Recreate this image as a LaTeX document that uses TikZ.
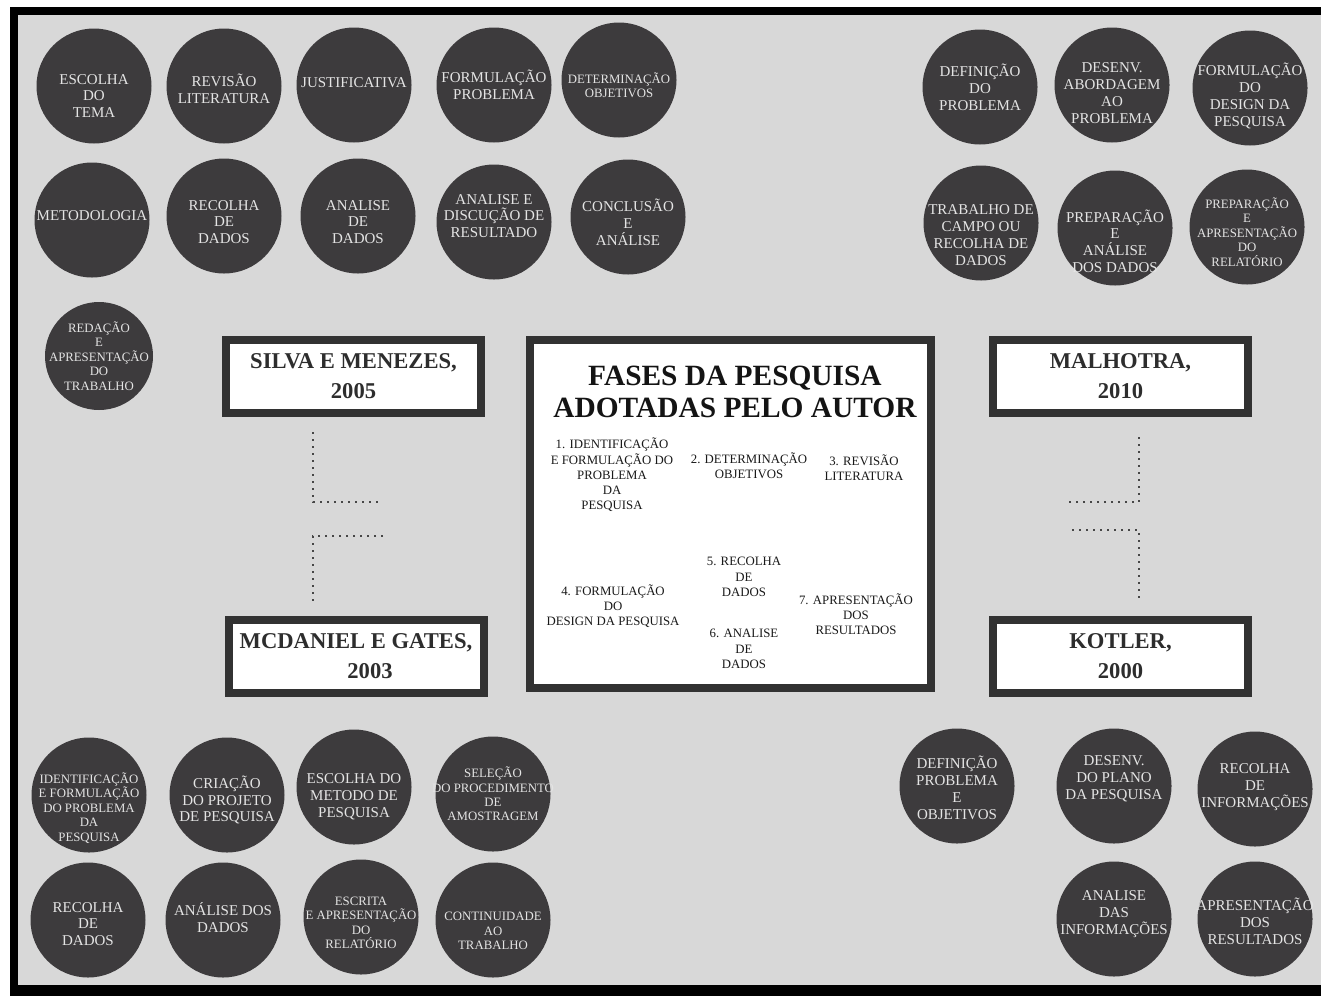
\documentclass[tikz,border=0pt]{standalone}
\usepackage{fontspec}
\setmainfont{Liberation Serif}
\usetikzlibrary{positioning, shapes.geometric}

\definecolor{fundo}{RGB}{216,216,216}
\definecolor{bolha}{RGB}{61,59,61}
\definecolor{bolhatexto}{RGB}{228,228,228}
\definecolor{borda}{RGB}{50,50,50}
\definecolor{autortexto}{RGB}{45,45,45}
\definecolor{pontos}{RGB}{70,70,70}

\tikzset{
  bubble/.style={circle, fill=bolha, minimum size=57.5pt, inner sep=0pt},
  bubbletext/.style={text=bolhatexto, align=center, inner sep=0pt, font=\fontsize{7.5}{8.4}\selectfont},
  bubblesmall/.style={bubbletext, font=\fontsize{6.4}{7.2}\selectfont},
  authorbox/.style={draw=borda, line width=4pt, fill=white, minimum width=127.5pt, minimum height=36.5pt, align=center, text=autortexto, font=\bfseries\fontsize{11.3}{15}\selectfont},
  stepnode/.style={align=center, inner sep=0pt, text=black!90, font=\fontsize{6.4}{7.6}\selectfont},
  dotline/.style={draw=pontos, line width=0.8pt, dash pattern=on 0.8pt off 2.7pt}
}

\begin{document}
\begin{tikzpicture}[x=0.5pt, y=-0.5pt]
  \useasboundingbox (0,0) rectangle (1321,996);
  \fill[white] (0,0) rectangle (1321,996);
  \fill[black] (10,7) rectangle (1321,996);
  \fill[fundo] (18,15) rectangle (1321,985);

  % Silva e Menezes
  \node[bubble, label={[bubbletext, yshift=-5pt]center:ESCOLHA\\DO\\TEMA}] (tema) at (94,86) {};
  \node[bubble, label={[bubbletext, yshift=-1.5pt]center:REVISÃO\\LITERATURA}] (revisao) at (224,86) {};
  \node[bubble, label={[bubbletext, yshift=1pt]center:JUSTIFICATIVA}] (justif) at (354,85) {};
  \node[bubble, label={[bubbletext]center:FORMULAÇÃO\\PROBLEMA}] (formprob) at (494,85) {};
  \node[bubble, label={[bubblesmall, yshift=-2.5pt]center:DETERMINAÇÃO\\OBJETIVOS}] (objetivos) at (619,80) {};
  \node[bubble, label={[bubbletext, yshift=2pt]center:METODOLOGIA}] (metodo) at (92,220) {};
  \node[bubble, label={[bubbletext, yshift=-3pt]center:RECOLHA\\DE\\DADOS}] (recolha) at (224,216) {};
  \node[bubble, label={[bubbletext, yshift=-3pt]center:ANALISE\\DE\\DADOS}] (analise) at (358,216) {};
  \node[bubble, label={[bubbletext, yshift=3pt]center:ANALISE E\\DISCUÇÃO DE\\RESULTADO}] (discussao) at (494,222) {};
  \node[bubble, label={[bubbletext, yshift=-2.5pt]center:CONCLUSÃO\\E\\ANÁLISE}] (conclusao) at (628,217) {};
  \node[bubble, minimum size=54pt, label={[bubblesmall]center:REDAÇÃO\\E\\APRESENTAÇÃO\\DO\\TRABALHO}] (redacao) at (99,356) {};

  % Malhotra
  \node[bubble, label={[bubbletext]center:DEFINIÇÃO\\DO\\PROBLEMA}] (defprob) at (980,87) {};
  \node[bubble, label={[bubbletext, yshift=-4pt]center:DESENV.\\ABORDAGEM\\AO\\PROBLEMA}] (abordagem) at (1112,85) {};
  \node[bubble, label={[bubbletext, yshift=-4pt]center:FORMULAÇÃO\\DO\\DESIGN DA\\PESQUISA}] (design) at (1250,88) {};
  \node[bubble, label={[bubbletext, yshift=-6pt]center:TRABALHO DE\\CAMPO OU\\RECOLHA DE\\DADOS}] (campo) at (981,223) {};
  \node[bubble, label={[bubbletext, yshift=-6.5pt]center:PREPARAÇÃO\\E\\ANÁLISE\\DOS DADOS}] (prepdados) at (1115,228) {};
  \node[bubble, label={[bubblesmall, yshift=-2.5pt]center:PREPARAÇÃO\\E\\APRESENTAÇÃO\\DO\\RELATÓRIO}] (relatorio) at (1247,227) {};

  % McDaniel e Gates
  \node[bubble, label={[bubblesmall, yshift=-6.5pt]center:IDENTIFICAÇÃO\\E FORMULAÇÃO\\DO PROBLEMA\\DA\\PESQUISA}] (identif) at (89,795) {};
  \node[bubble, label={[bubbletext, yshift=-2.5pt]center:CRIAÇÃO\\DO PROJETO\\DE PESQUISA}] (criacao) at (227,795) {};
  \node[bubble, label={[bubbletext, yshift=-5pt]center:ESCOLHA DO\\METODO DE\\PESQUISA}] (escmetodo) at (354,787) {};
  \node[bubble, label={[bubblesmall]center:SELEÇÃO\\DO PROCEDIMENTO\\DE\\AMOSTRAGEM}] (selecao) at (493,794) {};
  \node[bubble, label={[bubbletext, yshift=-2pt]center:RECOLHA\\DE\\DADOS}] (recolhamg) at (88,920) {};
  \node[bubble, label={[bubbletext, yshift=1pt]center:ANÁLISE DOS\\DADOS}] (anadados) at (223,920) {};
  \node[bubble, label={[bubblesmall, yshift=-3pt]center:ESCRITA\\E APRESENTAÇÃO\\DO\\RELATÓRIO}] (escrita) at (361,917) {};
  \node[bubble, label={[bubblesmall, yshift=-5.5pt]center:CONTINUIDADE\\AO\\TRABALHO}] (continuidade) at (493,920) {};

  % Kotler
  \node[bubble, label={[bubbletext, yshift=-1pt]center:DEFINIÇÃO\\PROBLEMA\\E\\OBJETIVOS}] (defobj) at (957,786) {};
  \node[bubble, label={[bubbletext, yshift=3.5pt]center:DESENV.\\DO PLANO\\DA PESQUISA}] (plano) at (1114,786) {};
  \node[bubble, label={[bubbletext, yshift=1pt]center:RECOLHA\\DE\\INFORMAÇÕES}] (recinfo) at (1255,789) {};
  \node[bubble, label={[bubbletext, yshift=2.5pt]center:ANALISE\\DAS\\INFORMAÇÕES}] (anainfo) at (1114,919) {};
  \node[bubble, label={[bubbletext, yshift=-1pt]center:APRESENTAÇÃO\\DOS\\RESULTADOS}] (apresres) at (1255,919) {};

  % autores
  \node[authorbox] (silva) at (353.5,376.5) {SILVA E MENEZES,\\2005};
  \node[authorbox] (mcdaniel) at (356,656.5) {MCDANIEL E GATES,\\\hspace*{14pt}2003};
  \node[authorbox] (malhotra) at (1120.5,376.5) {MALHOTRA,\\2010};
  \node[authorbox] (kotler) at (1120.5,656.5) {KOTLER,\\2000};

  % fases adotadas
  \node[draw=borda, line width=4pt, fill=white, minimum width=200.5pt, minimum height=174pt] (fases) at (730.5,514) {};
  \node[align=center, inner sep=0pt, font=\bfseries\fontsize{14.7}{16.2}\selectfont, text=black!92] (titulo) at (735,392) {FASES DA PESQUISA\\ADOTADAS PELO AUTOR};
  \node[stepnode] (passo1) at (612,475) {1. IDENTIFICAÇÃO\\E FORMULAÇÃO DO\\PROBLEMA\\DA\\PESQUISA};
  \node[stepnode] (passo2) at (749,466) {2. DETERMINAÇÃO\\OBJETIVOS};
  \node[stepnode] (passo3) at (864,468) {3. REVISÃO\\LITERATURA};
  \node[stepnode] (passo4) at (613,606) {4. FORMULAÇÃO\\DO\\DESIGN DA PESQUISA};
  \node[stepnode] (passo5) at (744,577) {5. RECOLHA\\DE\\DADOS};
  \node[stepnode] (passo6) at (744,649) {6. ANALISE\\DE\\DADOS};
  \node[stepnode] (passo7) at (856,614) {7. APRESENTAÇÃO\\DOS\\RESULTADOS};

  % ligações pontilhadas
  \coordinate (silva-fim) at (380,502);
  \coordinate (mcdaniel-fim) at (383,536);
  \coordinate (malhotra-fim) at (1068,502);
  \coordinate (kotler-fim) at (1072,530);
  \draw[dotline] ([shift={(-40.5,15)}]silva.south) |- (silva-fim);
  \draw[dotline] (mcdaniel-fim) -| ([shift={(-43,-14)}]mcdaniel.north);
  \draw[dotline] ([shift={(18.5,20)}]malhotra.south) |- (malhotra-fim);
  \draw[dotline] (kotler-fim) -| ([shift={(18.5,-14)}]kotler.north);
\end{tikzpicture}
\end{document}
